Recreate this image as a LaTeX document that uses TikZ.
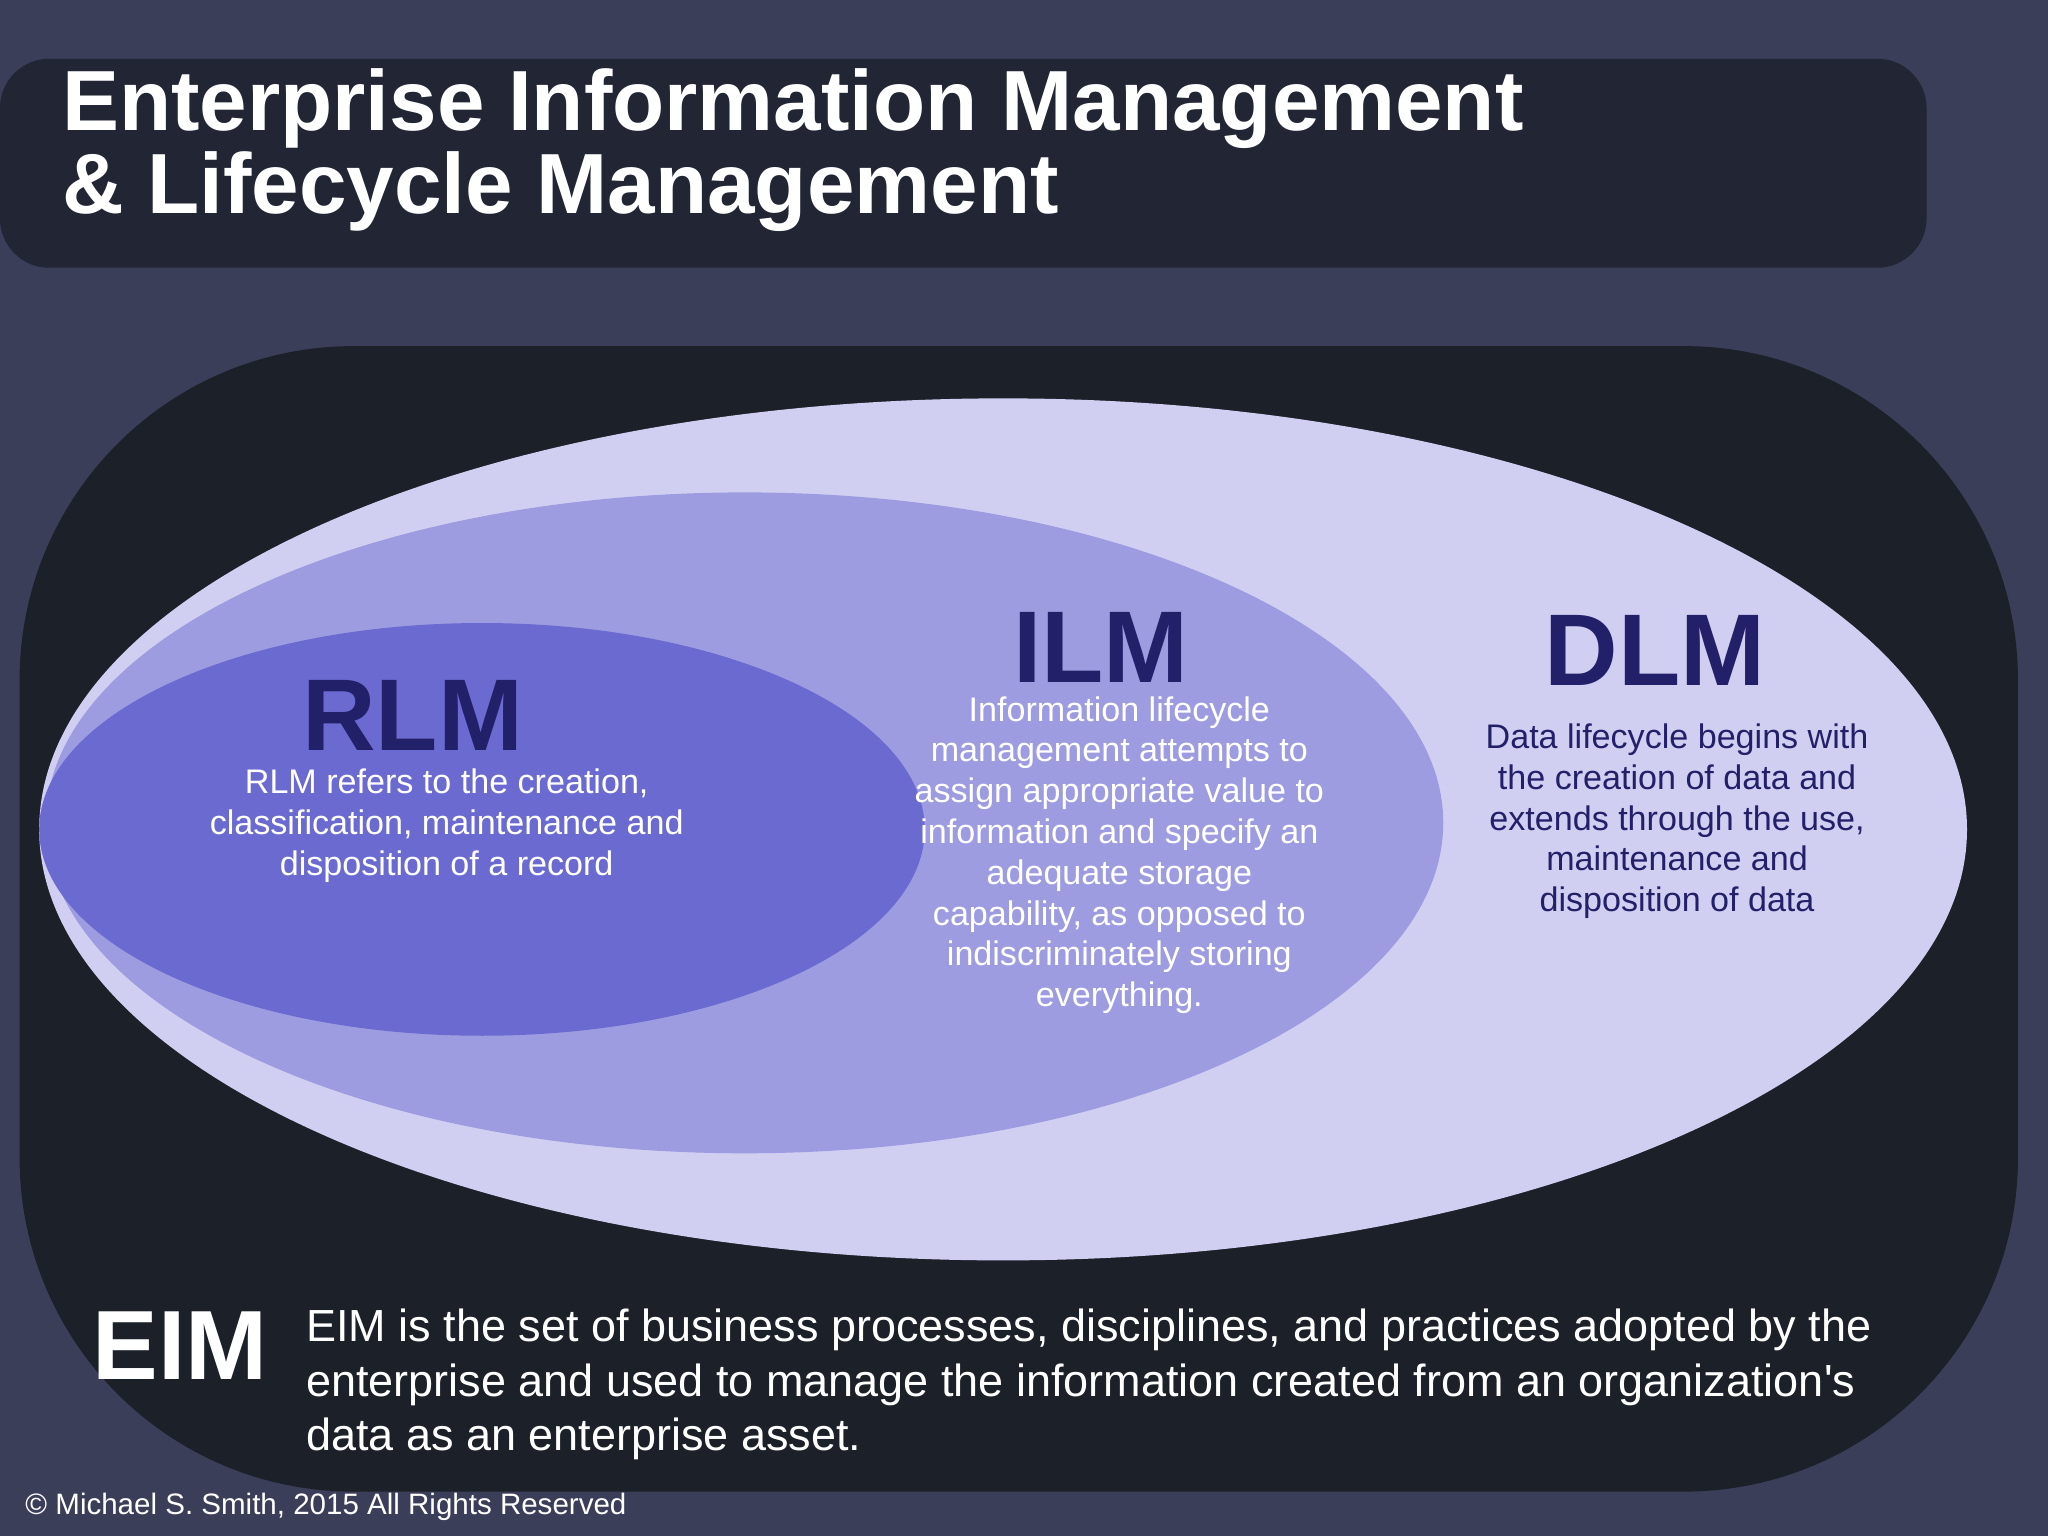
\documentclass[tikz,border=0pt]{standalone}
\usepackage{fontspec}
\setmainfont{Liberation Sans}
\definecolor{bgc}{HTML}{3B3E58}
\definecolor{barc}{HTML}{1F2331}
\definecolor{panelc}{HTML}{1C2029}
\definecolor{outerc}{HTML}{D0CFF1}
\definecolor{midc}{HTML}{9D9CE0}
\definecolor{innerc}{HTML}{6B6AD0}
\definecolor{navy}{HTML}{23206A}
\begin{document}
\begin{tikzpicture}[x=0.013061cm,y=-0.013061cm,
  head/.style={font=\bfseries\fontsize{29}{30}\selectfont,text=navy},
  body/.style={align=center,font=\fontsize{9.7}{11.6}\selectfont}]
\fill[bgc] (0,0) rectangle (1568,1176);
\useasboundingbox (0,0) rectangle (1568,1176);
\fill[barc,opacity=0.92,rounded corners=14] (0,45) rectangle (1475,205);
\node[anchor=west,text=white,align=left,inner sep=0pt,font=\bfseries\fontsize{24.3}{21}\selectfont] (title) at (47,115)
  {Enterprise Information Management\\\& Lifecycle Management};
\fill[panelc,rounded corners=95] (15,265) rectangle (1545,1142);
\fill[outerc] (768,635) ellipse [x radius=738, y radius=330];
\fill[midc] (570,630) ellipse [x radius=535, y radius=253];
\fill[innerc] (369,635) ellipse [x radius=339, y radius=158];
\node[head] (rlm) at (316,548) {RLM};
\node[body,text=white] (rlmt) at (342,632) {RLM refers to the creation,\\classification, maintenance and\\disposition of a record};
\node[head] (ilm) at (843,496) {ILM};
\node[body,text=white,anchor=north,inner sep=1pt] (ilmt) at (857,530) {Information lifecycle\\management attempts to\\assign appropriate value to\\information and specify an\\adequate storage\\capability, as opposed to\\indiscriminately storing\\everything.};
\node[head] (dlm) at (1267,498) {DLM};
\node[body,text=navy,anchor=north,inner sep=1pt] (dlmt) at (1284,551) {Data lifecycle begins with\\the creation of data and\\extends through the use,\\maintenance and\\disposition of data};
\node[text=white,font=\bfseries\fontsize{28}{30}\selectfont] (eim) at (138,1030) {EIM};
\node[anchor=north west,text=white,align=left,font=\fontsize{12.8}{15.4}\selectfont] (eimt) at (225,993)
  {EIM is the set of business processes, disciplines, and practices adopted by the\\enterprise and used to manage the information created from an organization\textquotesingle s\\data as an enterprise asset.};
\node[anchor=west,text=white,font=\fontsize{8.4}{9}\selectfont] (copy) at (10,1154) {© Michael S. Smith, 2015 All Rights Reserved};
\end{tikzpicture}
\end{document}
